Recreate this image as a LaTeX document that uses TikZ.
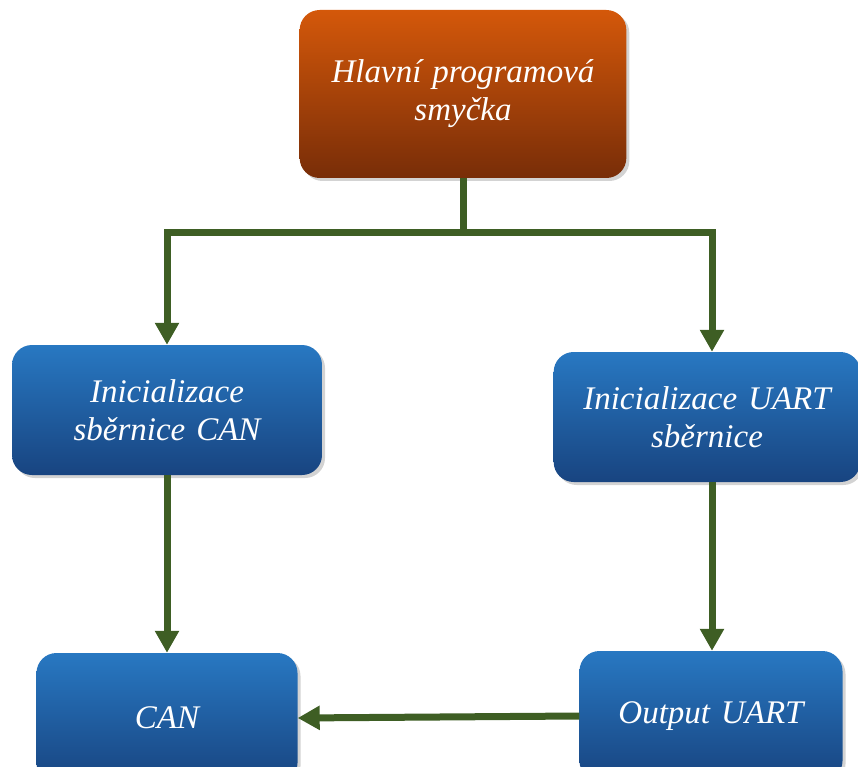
\documentclass[tikz,border=0pt]{standalone}
\usepackage{fontspec}
\setmainfont{Liberation Serif}
\usetikzlibrary{shapes, arrows.meta, calc, shadows, positioning}
\definecolor{orangetop}{RGB}{212,88,10}
\definecolor{orangebottom}{RGB}{120,45,8}
\definecolor{bluetop}{RGB}{40,120,194}
\definecolor{bluebottom}{RGB}{24,68,128}
\definecolor{linkgreen}{RGB}{62,94,36}
\tikzstyle{loopbox} = [rectangle, rounded corners=20pt, minimum width=326pt, minimum height=168pt, text width=320pt, align=center, text=white, top color=orangetop, bottom color=orangebottom, drop shadow={shadow xshift=3pt, shadow yshift=-3pt, opacity=0.35, fill=gray}, font=\fontsize{33}{38}\selectfont\itshape]
\tikzstyle{process} = [rectangle, rounded corners=20pt, minimum height=130pt, text width=300pt, align=center, text=white, top color=bluetop, bottom color=bluebottom, drop shadow={shadow xshift=3pt, shadow yshift=-3pt, opacity=0.35, fill=gray}, font=\fontsize{33}{38}\selectfont\itshape]
\tikzstyle{link} = [line width=7pt, draw=linkgreen]
\tikzstyle{arrow} = [line width=7pt, draw=linkgreen, -{Triangle[width=23pt, length=22pt]}]

\begin{document}
\begin{tikzpicture}[x=1pt, y=-1pt]
\useasboundingbox (0,0) rectangle (858,767);
\clip (0,0) rectangle (858,767);

% Main loop
\node (loop) [loopbox] at (463,94) {Hlavní programová\\smyčka};
\coordinate (split) at (463,232);

% Bus initialisation
\node (initcan) [process, minimum width=310pt] at (167,410) {Inicializace\\sběrnice CAN};
\node (inituart) [process, minimum width=303pt] at (707,417) {Inicializace UART\\sběrnice};

% Outputs
\node (can) [process, minimum width=261pt, text width=250pt] at (167,718) {CAN};
\node (outuart) [process, minimum width=263pt, text width=250pt] at (711,716) {Output UART};

\draw [link] (loop.south) -- (split);
\draw [arrow] (split) -| (initcan.north);
\draw [arrow] (split) -| ([xshift=5pt]inituart.north);
\draw [arrow] (initcan.south) -- (initcan.south |- can.north);
\draw [arrow] ([xshift=5pt]inituart.south) -- ([xshift=5pt]inituart.south |- outuart.north);
\draw [arrow] (outuart.west) -- (can.east);

\end{tikzpicture}
\end{document}
